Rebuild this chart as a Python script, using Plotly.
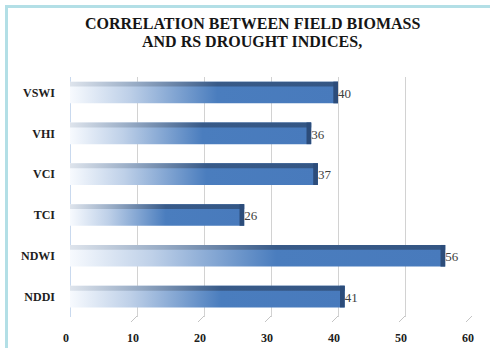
import plotly.graph_objects as go

# Correlation of field biomass with remote-sensing drought indices
categories = ["VSWI", "VHI", "VCI", "TCI", "NDWI", "NDDI"]
values = [40, 36, 37, 26, 56, 41]
x_ticks = [0, 10, 20, 30, 40, 50, 60]
title_lines = ["CORRELATION BETWEEN FIELD BIOMASS", "AND RS DROUGHT INDICES,"]

W, H = 490, 348
ML, MR, MT, MB = 70, 18, 77, 31
PW, PH = W - ML - MR, H - MT - MB

SERIF = "Liberation Serif, Times New Roman, serif"
FACE_SCALE = [[0, "rgb(247,250,254)"], [0.22, "rgb(190,208,232)"],
              [0.55, "rgb(74,125,190)"], [1, "rgb(72,122,188)"]]
TOP_SCALE = [[0, "rgb(222,228,236)"], [0.25, "rgb(150,170,196)"],
             [0.55, "rgb(56,90,136)"], [1, "rgb(52,86,132)"]]
CAP_COLOR = "rgb(44,76,122)"

BAR_W = 0.53   # bar thickness in category units
TOP_W = 0.12   # thickness of the darker top face
CAP = 0.7      # length of the darker end face, in axis units

fig = go.Figure()


def box(x0, x1, y0, y1):
    return [x0, x1, x1, x0, x0], [y0, y0, y1, y1, y0]


for idx, (cat, v) in enumerate(zip(categories, values)):
    top = idx - BAR_W / 2
    bottom = idx + BAR_W / 2
    # front face with a white-to-blue fade along the bar
    xs, ys = box(0, v, top, bottom)
    fig.add_trace(go.Scatter(
        x=xs, y=ys, mode="lines", fill="toself",
        line=dict(width=0, color="rgba(0,0,0,0)"),
        fillgradient=dict(type="horizontal", colorscale=FACE_SCALE),
        hoverinfo="skip", showlegend=False,
    ))
    # top face
    xs, ys = box(0, v, top, top + TOP_W)
    fig.add_trace(go.Scatter(
        x=xs, y=ys, mode="lines", fill="toself",
        line=dict(width=0, color="rgba(0,0,0,0)"),
        fillgradient=dict(type="horizontal", colorscale=TOP_SCALE),
        hoverinfo="skip", showlegend=False,
    ))
    # end face
    xs, ys = box(v - CAP, v, top, bottom)
    fig.add_trace(go.Scatter(
        x=xs, y=ys, mode="lines", fill="toself",
        line=dict(width=0, color="rgba(0,0,0,0)"),
        fillcolor=CAP_COLOR,
        hoverinfo="skip", showlegend=False,
    ))

# value labels at the bar ends
fig.add_trace(go.Scatter(
    y=[i + 0.05 for i in range(len(categories))], x=values, mode="text",
    text=[str(v) for v in values], textposition="middle right",
    textfont=dict(family=SERIF, size=13, color="#404040"),
    hoverinfo="skip", showlegend=False,
))

shapes = []
# outer frame
shapes.append(dict(
    type="rect", xref="paper", yref="paper",
    x0=(6.5 - ML) / PW, x1=(W + 20 - ML) / PW,
    y0=1 - (H + 20 - MT) / PH, y1=1 - (6.5 - MT) / PH,
    line=dict(color="#b3dfe6", width=3), layer="below",
))
# small slanted floor marks at the foot of each grid line
for t in x_ticks:
    shapes.append(dict(
        type="line", xref="x", yref="paper",
        xsizemode="pixel", xanchor=t, x0=0, x1=-6,
        ysizemode="pixel", yanchor=0, y0=1, y1=-5,
        line=dict(color="#c4c4c4", width=1),
    ))

annotations = []
for line, py in zip(title_lines, [23.5, 41.5]):
    annotations.append(dict(
        text=f"<b>{line}</b>",
        xref="paper", yref="paper",
        x=(252 - ML) / PW, y=1 - (py - MT) / PH,
        xanchor="center", yanchor="middle", showarrow=False,
        font=dict(family=SERIF, size=16, color="#151515"),
    ))

fig.update_layout(
    width=W, height=H,
    margin=dict(l=ML, r=MR, t=MT, b=MB, pad=0),
    paper_bgcolor="white", plot_bgcolor="white",
    shapes=shapes,
    annotations=annotations,
    font=dict(family=SERIF),
)

fig.update_xaxes(
    range=[0, 60], tickvals=x_ticks, ticktext=[f"<b>{t}</b>" for t in x_ticks],
    showgrid=True, gridcolor="#d2d2d2", gridwidth=1,
    zeroline=True, zerolinecolor="#c9d9ee", zerolinewidth=1,
    showline=False, ticks="outside", ticklen=10, tickcolor="rgba(0,0,0,0)",
    tickfont=dict(size=12, color="#202020"),
    ticklabelshift=-4, automargin=False,
    fixedrange=True,
)
fig.update_yaxes(
    range=[len(categories) - 0.5, -0.38],
    tickvals=list(range(len(categories))),
    ticktext=[f"<b>{c}</b>" for c in categories],
    showgrid=False, zeroline=False, showline=False, ticks="",
    tickfont=dict(size=12, color="#202020"),
    ticklabelstandoff=14, automargin=False,
    fixedrange=True,
)

fig.write_html("out.html", config={"displayModeBar": False})
